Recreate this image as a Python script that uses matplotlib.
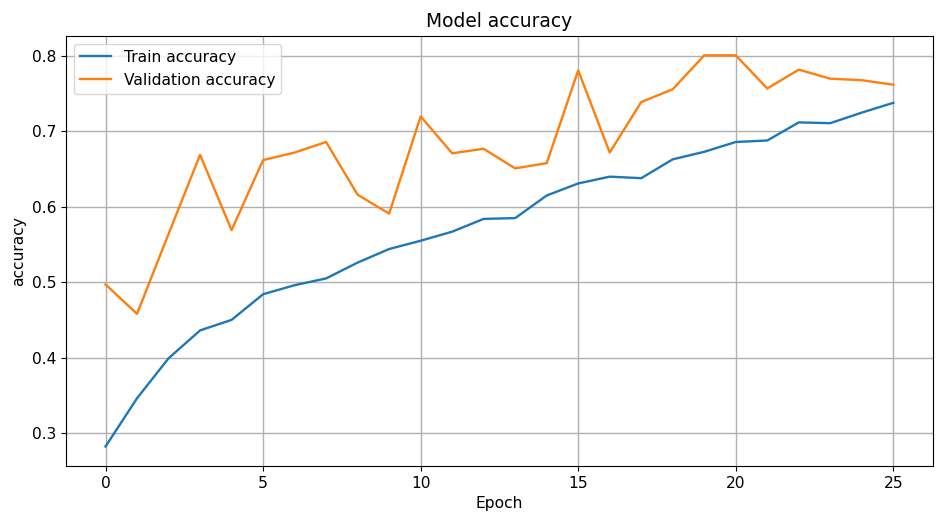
import matplotlib
matplotlib.use('Agg')
import matplotlib.pyplot as plt

epochs = list(range(26))
train_acc = [0.282, 0.346, 0.399, 0.436, 0.450, 0.484, 0.496, 0.505, 0.526, 0.544,
             0.555, 0.567, 0.584, 0.585, 0.615, 0.631, 0.640, 0.638, 0.663, 0.673,
             0.686, 0.688, 0.712, 0.711, 0.725, 0.738]
val_acc = [0.497, 0.458, 0.564, 0.669, 0.569, 0.662, 0.672, 0.686, 0.616, 0.591,
           0.720, 0.671, 0.677, 0.651, 0.658, 0.781, 0.672, 0.739, 0.756, 0.801,
           0.801, 0.757, 0.782, 0.770, 0.768, 0.762]

plt.rcParams['font.size'] = 11.2
plt.rcParams['lines.linewidth'] = 1.7
plt.rcParams['grid.linewidth'] = 1.0

fig = plt.figure(figsize=(9.45, 5.26), dpi=100)
plt.plot(epochs, train_acc, label='Train accuracy')
plt.plot(epochs, val_acc, label='Validation accuracy')
plt.title('Model accuracy')
plt.xlabel('Epoch')
plt.ylabel('accuracy')
plt.legend(loc='upper left')
plt.grid(True)
plt.subplots_adjust(left=0.070, right=0.987, top=0.932, bottom=0.114)
plt.savefig('out.png', dpi=100)
